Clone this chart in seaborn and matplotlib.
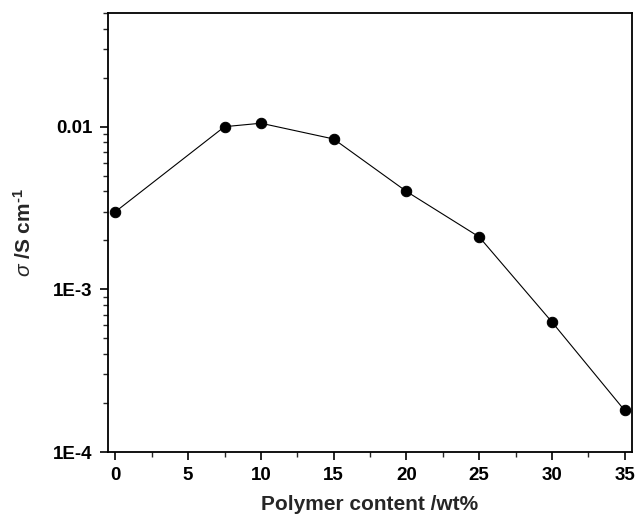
import numpy as np
import pandas as pd
import seaborn as sns
import matplotlib.pyplot as plt
from matplotlib.ticker import FixedLocator, MultipleLocator, LogLocator, NullFormatter

# data
polymer_wt = [0, 7.5, 10, 15, 20, 25, 30, 35]
sigma = [3.0e-3, 1.0e-2, 1.05e-2, 8.4e-3, 4.0e-3, 2.1e-3, 6.3e-4, 1.8e-4]
y_ticks = [1e-4, 1e-3, 1e-2]
y_ticklabels = ['1E-4', '1E-3', '0.01']
x_ticks = [0, 5, 10, 15, 20, 25, 30, 35]

df = pd.DataFrame({'wt': polymer_wt, 'sigma': sigma})

sns.set_theme(style='ticks')
plt.rcParams['font.family'] = ['Liberation Sans', 'DejaVu Sans']
plt.rcParams['mathtext.fontset'] = 'custom'
plt.rcParams['mathtext.it'] = 'Liberation Sans:italic'
plt.rcParams['mathtext.rm'] = 'Liberation Sans:bold'

fig = plt.figure(figsize=(6.36, 5.15), dpi=100)
ax = fig.add_axes([0.170, 0.1223, 0.8237, 0.8525])

sns.lineplot(data=df, x='wt', y='sigma', ax=ax, color='black', linewidth=0.8,
             marker='o', markersize=7.5, markeredgecolor='black')

ax.set_yscale('log')
ax.set_ylim(1e-4, 0.05)
ax.set_xlim(-0.5, 35.5)

ax.yaxis.set_major_locator(FixedLocator(y_ticks))
ax.set_yticklabels(y_ticklabels)
ax.yaxis.set_minor_locator(LogLocator(base=10, subs=np.arange(2, 10), numticks=20))
ax.yaxis.set_minor_formatter(NullFormatter())
ax.set_xticks(x_ticks)
ax.xaxis.set_minor_locator(MultipleLocator(2.5))

for s in ax.spines.values():
    s.set_linewidth(1.3)
    s.set_color('black')

ax.tick_params(which='major', direction='out', length=6, width=1.2, labelsize=13.5,
               colors='black', pad=5)
ax.tick_params(which='minor', direction='out', length=3.6, width=1.0)
for lbl in ax.get_xticklabels() + ax.get_yticklabels():
    lbl.set_fontweight('bold')

ax.set_xlabel('Polymer content /wt%', fontsize=15, fontweight='bold', labelpad=8)
ax.set_ylabel(r'$\mathit{\sigma}$ /S cm$^{\text{-1}}$', fontsize=15, fontweight='bold', labelpad=13)

plt.savefig('out.png', dpi=100)
